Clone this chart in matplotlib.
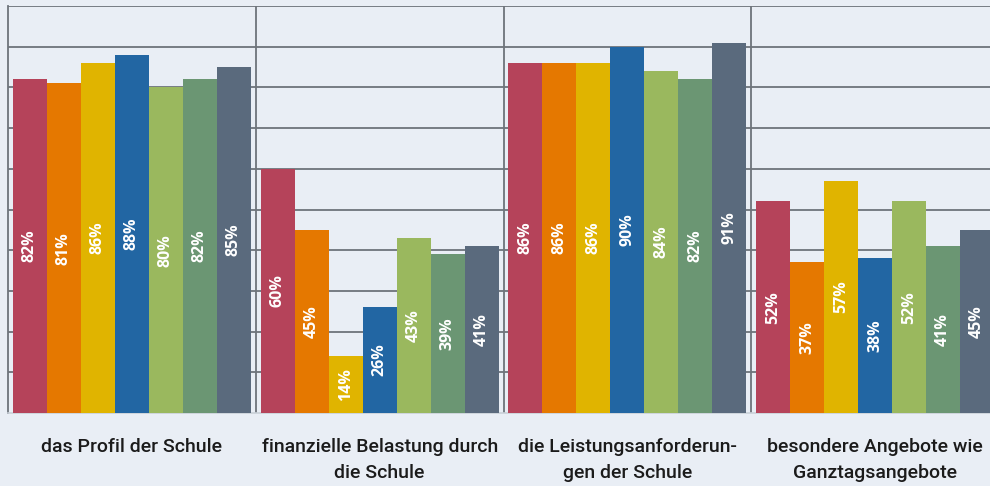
import numpy as np
import matplotlib.pyplot as plt

# Werte je Gruppe (7 Balken pro Gruppe)
categories = ["das Profil der Schule",
              "finanzielle Belastung durch\ndie Schule",
              "die Leistungsanforderun-\ngen der Schule",
              "besondere Angebote wie\nGanztagsangebote"]
values = [
    [82, 81, 86, 88, 80, 82, 85],
    [60, 45, 14, 26, 43, 39, 41],
    [86, 86, 86, 90, 84, 82, 91],
    [52, 37, 57, 38, 52, 41, 45],
]
colors = ["#b5435a", "#e57800", "#e0b400", "#2266a3", "#9ab85e", "#6b9673", "#5a6a7d"]

bg = "#e9eef5"
grid_c = "#6e747b"

fig = plt.figure(figsize=(9.9, 4.86), dpi=100, facecolor=bg)
# Achse ragt rechts etwas ueber den Bildrand hinaus (wie im Original abgeschnitten)
ax = fig.add_axes([8 / 990, 1 - 413 / 486, 991 / 990, 407 / 486])
ax.set_facecolor(bg)

n = len(colors)
for g, vals in enumerate(values):
    start = g + 0.02
    for i, v in enumerate(vals):
        x = start + (i + 0.5) * (0.96 / n)
        ax.bar(x, v, width=0.96 / n, color=colors[i], zorder=3, linewidth=0)
        ax.text(x, v / 2, f"{v}%", rotation=90, ha="center", va="center",
                color="white", fontsize=11.5, fontweight="bold",
                family="Open Sans", zorder=4)

ax.set_xlim(0, 4)
ax.set_ylim(0, 100)
for y in range(10, 101, 10):
    ax.axhline(y, color=grid_c, lw=1.3, zorder=1)
for xs in range(1, 4):
    ax.axvline(xs, color=grid_c, lw=1.3, zorder=1)

for s in ["top", "right"]:
    ax.spines[s].set_visible(False)
ax.spines["left"].set_color(grid_c)
ax.spines["left"].set_linewidth(1.3)
ax.spines["bottom"].set_color("#c9d0d8")
ax.spines["bottom"].set_linewidth(1.2)
ax.set_yticks([])
ax.set_xticks([g + 0.5 for g in range(4)])
ax.set_xticklabels(categories, fontsize=14, color="#1b1b1b", family="Roboto",
                   fontweight="medium", linespacing=1.6)
ax.tick_params(axis="x", length=0, pad=18)

fig.savefig("out.png", dpi=100, facecolor=bg)
